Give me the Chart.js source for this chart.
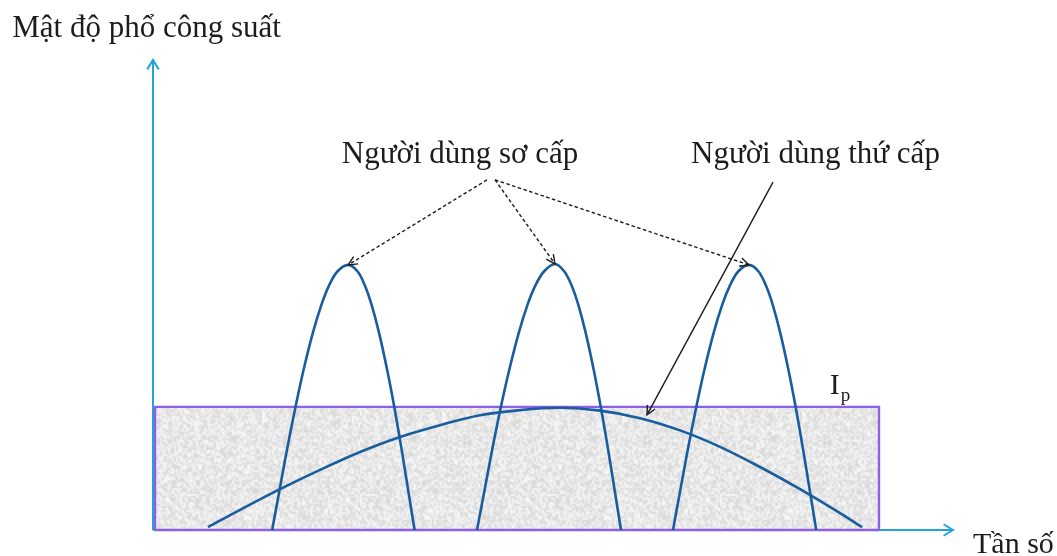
<!DOCTYPE html>
<html lang="vi">
<head>
<meta charset="utf-8">
<title>Mật độ phổ công suất</title>
<script src="https://cdn.jsdelivr.net/npm/chart.js@4.4.1/dist/chart.umd.min.js"></script>
<style>
  html, body { margin: 0; padding: 0; background: #ffffff; }
  #wrap { width: 1057px; height: 556px; position: relative; }
</style>
</head>
<body>
<div id="wrap"><canvas id="psdChart"></canvas></div>
<script>
// Trục: tần số 0..100, mật độ phổ 0..10
const freqRange = [0, 100];
const densityRange = [0, 10];

// Ba người dùng sơ cấp: các đỉnh hẹp [tần số, mật độ]
const primaryOne = [
    [14.9, 0], [15.76, 0.8], [16.74, 1.7], [17.79, 2.6], [18.81, 3.4], [19.99, 4.2], [21.07, 4.8],
    [22.0, 5.2], [23.05, 5.5], [24.4, 5.64], [25.58, 5.5], [26.49, 5.2], [27.31, 4.8], [28.25, 4.2],
    [29.28, 3.4], [30.18, 2.6], [31.09, 1.7], [31.94, 0.8], [32.7, 0]
];
const primaryTwo = [
    [40.5, 0], [41.39, 0.8], [42.39, 1.7], [43.46, 2.6], [44.52, 3.4], [45.73, 4.2], [46.83, 4.8],
    [47.79, 5.2], [48.87, 5.5], [50.25, 5.66], [51.42, 5.5], [52.33, 5.2], [53.15, 4.8], [54.08, 4.2],
    [55.1, 3.4], [55.99, 2.6], [56.9, 1.7], [57.75, 0.8], [58.5, 0]
];
const primaryThree = [
    [65.0, 0], [65.86, 0.8], [66.84, 1.7], [67.89, 2.6], [68.91, 3.4], [70.09, 4.2], [71.17, 4.8],
    [72.11, 5.2], [73.15, 5.5], [74.5, 5.64], [75.69, 5.5], [76.62, 5.2], [77.45, 4.8], [78.4, 4.2],
    [79.44, 3.4], [80.35, 2.6], [81.27, 1.7], [82.14, 0.8], [82.9, 0]
];

// Người dùng thứ cấp: phổ trải rộng, công suất thấp
const secondary = [
    [6.88, 0.06], [10.88, 0.43], [15.88, 0.87], [20.88, 1.28], [25.88, 1.66], [30.88, 1.98],
    [35.88, 2.23], [40.88, 2.44], [45.88, 2.55], [50.88, 2.6], [55.88, 2.54], [60.88, 2.38],
    [65.88, 2.12], [70.88, 1.77], [75.88, 1.34], [80.88, 0.87], [85.88, 0.36], [88.63, 0.06]
];

// Ngưỡng nhiễu cho phép I_p
const thresholdSpan = [0.25, 90.75];
const thresholdLevel = 2.62;

const axisLabels = ['Mật độ phổ công suất', 'Tần số'];
const userLabels = ['Người dùng sơ cấp', 'Người dùng thứ cấp'];
const thresholdLabel = ['I', 'p'];

const curveColor = '#195d9e';
const axisColor = '#22a3dd';
const boxColor = '#8f5fe8';
const inkColor = '#1c1c1c';
const fontFamily = '"Liberation Serif", "Times New Roman", serif';

// nền lốm đốm xám cho vùng I_p
function speckle() {
    const size = 90;
    const c = document.createElement('canvas');
    c.width = size; c.height = size;
    const g = c.getContext('2d');
    const img = g.createImageData(size, size);
    let seed = 11;
    const rnd = () => { seed = (seed * 16807) % 2147483647; return seed / 2147483647; };
    for (let i = 0; i < size * size; i++) {
        const v = 232 + (rnd() - 0.5) * 38;
        const tint = rnd();
        let r = v, gg = v, b = v;
        if (tint < 0.07) { r += 8; gg += 3; b -= 6; }
        else if (tint < 0.12) { b += 8; r -= 3; }
        img.data[i * 4] = r;
        img.data[i * 4 + 1] = gg;
        img.data[i * 4 + 2] = b;
        img.data[i * 4 + 3] = 255;
    }
    g.putImageData(img, 0, 0);
    // phóng to và làm mềm hạt
    const out = document.createElement('canvas');
    out.width = size * 2; out.height = size * 2;
    const o = out.getContext('2d');
    o.imageSmoothingEnabled = true;
    o.filter = 'blur(0.7px)';
    o.drawImage(c, 0, 0, size * 2, size * 2);
    o.filter = 'none';
    return o.createPattern(out, 'repeat');
}

function arrowHead(ctx, x1, y1, x2, y2, len, spread) {
    const a = Math.atan2(y2 - y1, x2 - x1);
    ctx.beginPath();
    ctx.moveTo(x2 - len * Math.cos(a - spread), y2 - len * Math.sin(a - spread));
    ctx.lineTo(x2, y2);
    ctx.lineTo(x2 - len * Math.cos(a + spread), y2 - len * Math.sin(a + spread));
    ctx.stroke();
}

const sketchNotes = {
    id: 'sketchNotes',
    beforeDatasetsDraw(chart, args, opts) {
        const { ctx, chartArea } = chart;
        ctx.save();
        ctx.strokeStyle = axisColor;
        ctx.lineWidth = 2;
        ctx.setLineDash([]);
        ctx.beginPath();
        ctx.moveTo(chartArea.left, chartArea.bottom);
        ctx.lineTo(chartArea.left, chartArea.top);
        ctx.moveTo(chartArea.left, chartArea.bottom);
        ctx.lineTo(chartArea.right, chartArea.bottom);
        ctx.stroke();
        arrowHead(ctx, chartArea.left, chartArea.bottom, chartArea.left, chartArea.top, 11, 0.55);
        arrowHead(ctx, chartArea.left, chartArea.bottom, chartArea.right, chartArea.bottom, 11, 0.55);
        ctx.restore();
    },
    afterDatasetsDraw(chart, args, opts) {
        const { ctx } = chart;
        const xs = chart.scales.x, ys = chart.scales.y;
        const px = v => xs.getPixelForValue(v);
        const py = v => ys.getPixelForValue(v);

        ctx.save();
        ctx.strokeStyle = inkColor;
        ctx.lineWidth = 1.4;
        opts.arrows.forEach(ar => {
            const x1 = px(ar.from[0]), y1 = py(ar.from[1]);
            const x2 = px(ar.to[0]), y2 = py(ar.to[1]);
            ctx.setLineDash(ar.dashed ? [3.5, 2.5] : []);
            ctx.beginPath();
            ctx.moveTo(x1, y1);
            ctx.lineTo(x2, y2);
            ctx.stroke();
            ctx.setLineDash([]);
            arrowHead(ctx, x1, y1, x2, y2, 10, 0.45);
        });

        ctx.fillStyle = inkColor;
        ctx.textBaseline = 'alphabetic';
        ctx.textAlign = 'left';
        opts.texts.forEach(t => {
            ctx.font = t.size + 'px ' + fontFamily;
            const x = px(t.at[0]), y = py(t.at[1]);
            ctx.fillText(t.text, x, y);
            if (t.sub) {
                const w = ctx.measureText(t.text).width;
                ctx.font = Math.round(t.size * 0.62) + 'px ' + fontFamily;
                ctx.fillText(t.sub, x + w + 1, y + 7);
            }
        });
        ctx.restore();
    }
};

const peakTop = pts => pts.reduce((m, p) => (p[1] > m[1] ? p : m));
const toPoints = pts => pts.map(p => ({ x: p[0], y: p[1] }));

const curveStyle = {
    borderColor: curveColor,
    borderWidth: 2.6,
    pointRadius: 0,
    fill: false,
    tension: 0.35,
    clip: false
};

const ctx = document.getElementById('psdChart').getContext('2d');
new Chart(ctx, {
    type: 'line',
    data: {
        datasets: [
            Object.assign({ label: 'sơ cấp 1', data: toPoints(primaryOne), order: 1 }, curveStyle),
            Object.assign({ label: 'sơ cấp 2', data: toPoints(primaryTwo), order: 1 }, curveStyle),
            Object.assign({ label: 'sơ cấp 3', data: toPoints(primaryThree), order: 1 }, curveStyle),
            Object.assign({ label: 'thứ cấp', data: toPoints(secondary), order: 1 }, curveStyle),
            {
                label: 'I_p',
                data: [
                    { x: thresholdSpan[0], y: 0 }, { x: thresholdSpan[0], y: thresholdLevel },
                    { x: thresholdSpan[1], y: thresholdLevel }, { x: thresholdSpan[1], y: 0 }
                ],
                borderColor: boxColor,
                borderWidth: 2.4,
                backgroundColor: speckle(),
                fill: 'origin',
                tension: 0,
                pointRadius: 0,
                clip: false,
                order: 5
            },
            {
                label: 'đáy I_p',
                data: [{ x: thresholdSpan[0], y: 0 }, { x: thresholdSpan[1], y: 0 }],
                borderColor: boxColor,
                borderWidth: 2.4,
                pointRadius: 0,
                fill: false,
                clip: false,
                order: 4
            }
        ]
    },
    options: {
        responsive: true,
        maintainAspectRatio: false,
        animation: false,
        events: [],
        layout: { padding: { left: 153, right: 104, top: 60, bottom: 26 } },
        scales: {
            x: { type: 'linear', min: freqRange[0], max: freqRange[1], display: false },
            y: { type: 'linear', min: densityRange[0], max: densityRange[1], display: false }
        },
        plugins: {
            legend: { display: false },
            tooltip: { enabled: false },
            sketchNotes: {
                arrows: [
                    { from: [41.75, 7.45], to: peakTop(primaryOne), dashed: true },
                    { from: [42.75, 7.45], to: peakTop(primaryTwo), dashed: true },
                    { from: [42.75, 7.45], to: peakTop(primaryThree), dashed: true },
                    { from: [77.5, 7.4], to: [61.75, 2.45], dashed: false }
                ],
                texts: [
                    { text: axisLabels[0], at: [-17.6, 10.49], size: 31 },
                    { text: axisLabels[1], at: [102.5, -0.49], size: 30 },
                    { text: userLabels[0], at: [23.6, 7.81], size: 31 },
                    { text: userLabels[1], at: [67.25, 7.81], size: 31 },
                    { text: thresholdLabel[0], sub: thresholdLabel[1], at: [84.6, 2.9], size: 30 }
                ]
            }
        }
    },
    plugins: [sketchNotes]
});
</script>
</body>
</html>
